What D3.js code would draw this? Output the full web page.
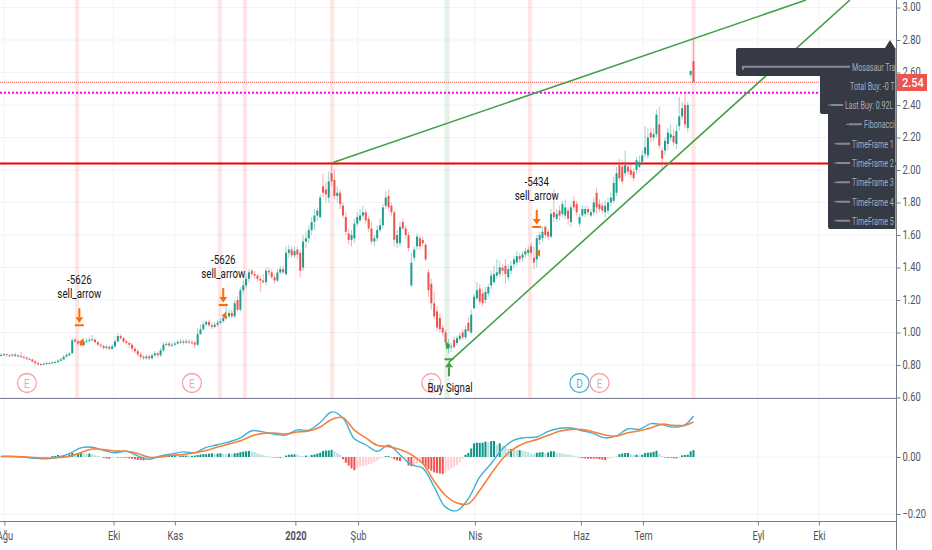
<!DOCTYPE html>
<html><head><meta charset="utf-8">
<script src="https://d3js.org/d3.v7.min.js"></script>
<style>html,body{margin:0;padding:0;background:#fff;overflow:hidden}svg{display:block;font-family:Roboto,sans-serif}</style>
</head><body><svg id="c" width="932" height="550"></svg>
<script>
const opens=[
.858,.862,.866,.860,.858,.864,.855,.856,.850,.846,
.838,.834,.822,.812,.806,.803,.807,.812,.811,.815,
.818,.826,.835,.852,.860,.872,.956,.945,.932,.922,
.945,.950,.955,.956,.940,.925,.918,.905,.912,.900,
.915,.945,.978,.965,.945,.935,.925,.900,.885,.865,
.850,.842,.852,.842,.860,.872,.860,.890,.925,.932,
.920,.925,.932,.942,.945,.938,.945,.940,.938,.925,
.99,1.02,1.05,1.065,1.045,1.035,1.048,1.06,1.07,1.09,
1.10,1.12,1.10,1.20,1.14,1.26,1.29,1.33,1.38,1.36,
1.35,1.33,1.32,1.31,1.38,1.37,1.34,1.32,1.37,1.39,
1.36,1.49,1.51,1.475,1.51,1.49,1.40,1.56,1.58,1.63,
1.68,1.72,1.71,1.90,1.88,1.83,1.98,1.94,1.84,1.86,
1.78,1.71,1.61,1.57,1.58,1.67,1.69,1.72,1.74,1.70,
1.64,1.56,1.58,1.63,1.66,1.78,1.84,1.78,1.74,1.55,
1.55,1.68,1.64,1.60,1.29,1.46,1.53,1.58,1.57,1.54,
1.37,1.30,1.18,1.13,1.09,1.03,1.00,.90,.91,.955,
.935,.96,1.00,.97,1.06,1.00,1.15,1.21,1.27,1.24,
1.20,1.24,1.29,1.31,1.35,1.36,1.40,1.41,1.34,1.38,
1.42,1.43,1.47,1.46,1.48,1.49,1.53,1.46,1.45,1.57,
1.58,1.65,1.62,1.59,1.74,1.70,1.75,1.73,1.72,1.75,
1.68,1.81,1.79,1.67,1.72,1.73,1.76,1.72,1.74,1.86,
1.79,1.78,1.74,1.75,1.80,1.81,1.86,2.03,2.02,1.98,
2.02,2.00,1.99,2.00,2.02,2.05,2.10,2.09,2.23,2.20,
2.22,2.28,2.12,2.12,2.16,2.20,2.21,2.16,2.27,2.33,
2.40,2.26,2.585,2.67];
const closes=[
.862,.866,.860,.858,.864,.855,.858,.850,.846,.838,
.834,.822,.812,.805,.802,.808,.812,.810,.815,.818,
.826,.835,.850,.862,.870,.952,.945,.932,.922,.945,
.950,.955,.958,.940,.925,.918,.905,.912,.900,.915,
.945,.978,.965,.945,.935,.925,.900,.885,.865,.850,
.842,.852,.840,.860,.872,.860,.890,.925,.930,.920,
.925,.932,.942,.945,.938,.945,.940,.938,.925,.990,
1.02,1.05,1.065,1.045,1.035,1.048,1.06,1.07,1.09,1.10,
1.12,1.10,1.18,1.14,1.26,1.29,1.33,1.37,1.36,1.35,
1.33,1.32,1.31,1.38,1.37,1.34,1.32,1.37,1.39,1.37,
1.49,1.51,1.475,1.50,1.48,1.38,1.56,1.58,1.63,1.68,
1.72,1.75,1.83,1.86,1.85,1.93,1.93,1.84,1.86,1.79,
1.72,1.62,1.57,1.60,1.67,1.71,1.72,1.74,1.69,1.64,
1.56,1.58,1.63,1.66,1.77,1.83,1.77,1.74,1.57,1.60,
1.65,1.64,1.60,1.52,1.43,1.51,1.59,1.53,1.55,1.45,
1.26,1.18,1.10,1.03,1.02,1.00,.94,.93,.915,.91,
.965,.98,.97,1.02,1.01,1.11,1.22,1.26,1.19,1.18,
1.25,1.28,1.35,1.36,1.37,1.40,1.38,1.36,1.39,1.41,
1.45,1.47,1.45,1.48,1.50,1.51,1.49,1.43,1.58,1.60,
1.62,1.60,1.59,1.73,1.71,1.73,1.72,1.79,1.77,1.70,
1.77,1.77,1.74,1.71,1.76,1.76,1.74,1.74,1.80,1.77,
1.76,1.75,1.78,1.80,1.83,1.92,1.98,1.95,1.93,2.03,
1.99,1.97,1.95,2.06,2.05,2.09,2.14,2.20,2.20,2.22,
2.34,2.15,2.07,2.18,2.23,2.22,2.17,2.24,2.33,2.38,
2.28,2.40,2.61,2.54];
const highs=[
.872,.874,.872,.868,.870,.876,.868,.880,.858,.852,
.846,.84,.83,.82,.812,.815,.82,.82,.824,.826,
.835,.845,.862,.875,.882,.965,.968,.955,.945,.965,
.965,.968,.985,.966,.95,.935,.925,.925,.922,.93,
.96,.995,.99,.975,.955,.945,.935,.915,.898,.88,
.862,.865,.864,.872,.885,.882,.905,.94,.945,.945,
.938,.945,.955,.96,.958,.96,.96,.955,.95,1.03,
1.05,1.07,1.08,1.08,1.06,1.065,1.075,1.085,1.105,1.18,
1.14,1.14,1.2,1.22,1.28,1.32,1.36,1.39,1.39,1.38,
1.36,1.35,1.36,1.40,1.40,1.39,1.36,1.39,1.41,1.41,
1.53,1.54,1.53,1.53,1.53,1.51,1.60,1.62,1.66,1.71,
1.76,1.77,1.85,1.98,1.93,1.99,2.04,2.0,1.90,1.88,
1.80,1.74,1.64,1.63,1.70,1.74,1.76,1.78,1.76,1.72,
1.68,1.60,1.66,1.70,1.79,1.87,1.88,1.80,1.75,1.63,
1.68,1.70,1.66,1.62,1.49,1.53,1.61,1.60,1.59,1.55,
1.39,1.33,1.25,1.16,1.12,1.05,1.02,.96,.94,.975,
.98,1.0,1.02,1.04,1.09,1.14,1.24,1.31,1.30,1.27,
1.28,1.30,1.38,1.41,1.45,1.44,1.42,1.45,1.42,1.44,
1.47,1.50,1.49,1.50,1.52,1.53,1.55,1.53,1.60,1.62,
1.65,1.66,1.64,1.76,1.88,1.76,1.78,1.81,1.82,1.77,
1.79,1.84,1.81,1.73,1.78,1.78,1.78,1.76,1.83,1.89,
1.82,1.80,1.81,1.83,1.86,1.96,2.02,2.07,2.06,2.12,
2.05,2.03,2.01,2.08,2.09,2.12,2.27,2.26,2.26,2.26,
2.37,2.39,2.14,2.20,2.26,2.28,2.25,2.28,2.45,2.42,
2.47,2.42,2.61,2.81];
const lows=[
.852,.856,.854,.85,.852,.848,.85,.844,.84,.83,
.828,.816,.795,.795,.794,.8,.804,.804,.808,.81,
.812,.82,.83,.845,.855,.868,.935,.92,.91,.915,
.935,.94,.945,.935,.915,.905,.895,.895,.89,.892,
.905,.94,.955,.935,.925,.905,.885,.87,.85,.835,
.83,.832,.828,.832,.85,.845,.85,.88,.915,.91,
.91,.915,.925,.93,.925,.93,.93,.925,.905,.915,
.985,1.01,1.04,1.035,1.02,1.025,1.035,1.05,1.06,1.08,
1.09,1.09,1.09,1.13,1.13,1.24,1.27,1.31,1.34,1.33,
1.31,1.25,1.30,1.29,1.35,1.33,1.30,1.31,1.36,1.36,
1.35,1.46,1.46,1.46,1.45,1.34,1.38,1.52,1.55,1.60,
1.63,1.69,1.70,1.83,1.80,1.80,1.90,1.82,1.80,1.76,
1.70,1.60,1.54,1.53,1.55,1.65,1.68,1.70,1.67,1.62,
1.54,1.53,1.56,1.62,1.64,1.76,1.75,1.72,1.53,1.52,
1.53,1.63,1.58,1.50,1.28,1.44,1.51,1.51,1.53,1.44,
1.22,1.14,1.08,1.01,1.00,.98,.92,.87,.88,.90,
.92,.945,.955,.96,1.00,.99,1.14,1.20,1.17,1.16,
1.18,1.22,1.27,1.30,1.33,1.34,1.35,1.30,1.32,1.36,
1.40,1.41,1.43,1.44,1.46,1.47,1.46,1.39,1.40,1.54,
1.56,1.58,1.57,1.58,1.68,1.68,1.69,1.71,1.70,1.66,
1.65,1.75,1.72,1.65,1.71,1.71,1.72,1.71,1.72,1.73,
1.74,1.73,1.71,1.73,1.78,1.80,1.84,1.93,1.91,1.96,
1.97,1.95,1.93,1.98,2.01,2.03,2.08,2.07,2.17,2.18,
2.20,2.13,2.00,2.09,2.12,2.18,2.15,2.13,2.24,2.31,
2.26,2.23,2.57,2.54];
const macdBars=[0,4,8,12,16,20,24,28,32,36,40,44,48,52,56,60,64,68,72,76,80,84,88,92,96,100,104,108,112,116,120,124,128,132,136,140,144,148,152,156,160,164,168,172,176,180,184,188,192,196,200,204,208,212,216,220,224,228,232,236,240,243];
const macdLine=[.002,.002,0,-.005,-.006,-.001,.012,.032,.034,.023,.015,.020,.004,-.008,.004,.011,.018,.015,.034,.043,.053,.067,.092,.088,.080,.077,.095,.094,.121,.158,.137,.064,.043,.020,.041,.008,-.027,-.039,-.105,-.176,-.188,-.146,-.070,-.023,.029,.059,.068,.070,.090,.101,.102,.092,.082,.067,.074,.099,.097,.117,.113,.105,.113,.144];
const signalLine=[.002,.002,.001,-.002,-.004,-.002,.002,.015,.028,.026,.021,.020,.012,-.001,0,.006,.009,.015,.023,.035,.046,.057,.074,.083,.084,.081,.088,.091,.105,.132,.138,.094,.067,.041,.036,.026,.008,-.023,-.085,-.135,-.161,-.164,-.117,-.059,-.006,.029,.050,.061,.076,.090,.097,.096,.088,.077,.073,.085,.092,.102,.115,.111,.111,.123];
const histogram=[
.001,.001,.001,.001,0,0,-.001,-.001,-.002,-.002,
-.002,-.003,-.003,-.003,-.002,-.002,-.002,-.001,.003,.004,
.007,.006,.007,.006,.009,.015,.012,.012,.014,.013,
.012,.012,.010,.006,.004,.001,-.003,-.005,-.006,-.003,
-.002,-.002,-.002,-.002,-.003,-.005,-.006,-.008,-.010,-.011,
-.012,-.007,-.004,-.001,-.001,.001,.002,.004,.005,.006,
.006,.006,.005,.005,.005,.005,.004,.004,.005,.007,
.009,.010,.010,.012,.013,.012,.012,.013,.011,.010,
.012,.011,.013,.014,.017,.019,.020,.021,.020,.017,
.012,.010,.006,.004,.002,-.001,-.002,-.002,-.003,-.002,
.005,.008,.009,.009,.008,.004,.003,.005,.003,.007,
.009,.012,.015,.021,.023,.023,.025,.020,.014,.008,
-.008,-.020,-.030,-.040,-.046,-.040,-.034,-.032,-.030,-.026,
-.024,-.018,-.012,-.006,-.002,.003,.003,-.002,-.008,-.012,
-.014,-.006,-.005,-.030,-.032,-.028,-.024,-.020,-.024,-.034,
-.042,-.048,-.054,-.056,-.058,-.060,-.056,-.046,-.040,-.034,
-.028,-.018,-.006,.008,.014,.030,.048,.050,.050,.050,
.054,.052,.056,.056,.044,.048,.040,.034,.028,.028,
.026,.024,.024,.022,.020,.018,.012,.010,.015,.016,
.017,.012,.016,.020,.020,.015,.014,.012,.010,.009,
.008,.005,.002,-.002,-.004,-.005,-.006,-.006,-.006,-.006,
-.008,-.009,-.011,-.006,-.005,-.002,.001,.010,.012,.014,
.014,.010,.008,.008,.006,.008,.014,.015,.016,.018,
.022,.010,.004,-.002,-.003,-.003,-.004,-.005,-.003,.006,
.007,.008,.020,.024];
const priceTicks=[3.0,2.8,2.6,2.4,2.2,2.0,1.8,1.6,1.4,1.2,1.0,0.8,0.6];
const macdTicks=[0,-0.2];
const timeTickBars=[1.2,39.5,61,103.3,125.3,166.3,203.5,225.3,265.6,287];
const timeTickLabels=["Ağu","Eki","Kas","2020","Şub","Nis","Haz","Tem","Eyl","Eki"];
const sellBands=[26.7,76.8,85.6,116.2,185.6,243];
const buyBands=[156.5];
const sellArrows=[{bar:27.5,price:1.045,top:"-5626",name:"sell_arrow"},{bar:78,price:1.17,top:"-5626",name:"sell_arrow"},{bar:188,price:1.65,top:"-5434",name:"sell_arrow"}];
const sellMarks=[{bar:28.5,price:.94},{bar:78.7,price:1.104},{bar:188.8,price:1.49}];
const levelRed=2.04, levelMagenta=2.475, lastPrice=2.54;
const trendA={bars:[116.5,282.5],prices:[2.046,3.046]};
const trendB={bars:[157.2,297.9],prices:[.818,3.046]};
const events=[{bar:9.1,t:"E",c:"#f7a3a6"},{bar:67,t:"E",c:"#f7a3a6"},{bar:151,t:"E",c:"#f7a3a6"},{bar:203,t:"D",c:"#4fb3d9"},{bar:210,t:"E",c:"#f7a3a6"}];
const legendRows=[
 {t:"Mosasaur Trad",tx:852,lx:743,ly:850,big:1},
 {t:"Total Buy: -0 T",tx:850},
 {t:"Last Buy: 0.92L",tx:845,lx:828,ly:843},
 {t:"Fibonacci",tx:864,lx:846,ly:862},
 {t:"TimeFrame 1",tx:852,lx:834,ly:850},
 {t:"TimeFrame 2",tx:852,lx:834,ly:850},
 {t:"TimeFrame 3",tx:852,lx:834,ly:850},
 {t:"TimeFrame 4",tx:852,lx:834,ly:850},
 {t:"TimeFrame 5",tx:852,lx:834,ly:850}];

const svg=d3.select("#c");
const W=896,PB=398,MB=521.5;
const x=d3.scaleLinear().domain([0,243]).range([1,693.5]);
const y=d3.scaleLinear().domain([0.8,3.0]).range([365,7.5]);
const ym=d3.scaleLinear().domain([-0.2,0]).range([514,457]);
const GREEN="#1e9e8f",RED="#ef5350";
const defs=svg.append("defs");
defs.append("clipPath").attr("id","pc").append("rect").attr("width",W).attr("height",PB);
defs.append("clipPath").attr("id","lc").append("rect").attr("width",W-0.5).attr("height",550);
const sx=.78;
function txt(g,xp,yp,s,o={}){
  return g.append("text").attr("transform",`translate(${xp},${yp}) scale(${o.sx||sx},1)`)
   .attr("text-anchor",o.a||"middle").attr("font-size",o.fs||12).attr("font-weight",o.w||400)
   .attr("fill",o.c||"#131722").text(s);
}
// grid
const grid=svg.append("g").attr("stroke","#f0f3fa");
grid.selectAll(".v").data(timeTickBars).join("line").attr("x1",d=>x(d)).attr("x2",d=>x(d)).attr("y1",0).attr("y2",MB);
grid.selectAll(".h").data(priceTicks).join("line").attr("x1",0).attr("x2",W).attr("y1",d=>y(d)).attr("y2",d=>y(d));
grid.selectAll(".m").data(macdTicks).join("line").attr("x1",0).attr("x2",W).attr("y1",d=>ym(d)).attr("y2",d=>ym(d));
// bands
const pane=svg.append("g").attr("clip-path","url(#pc)");
pane.selectAll(".sb").data(sellBands).join("rect").attr("x",d=>x(d)-2).attr("width",4).attr("y",0).attr("height",PB).attr("fill","rgba(255,82,82,.15)");
pane.selectAll(".bb").data(buyBands).join("rect").attr("x",d=>x(d)-2.5).attr("width",5).attr("y",0).attr("height",PB).attr("fill","rgba(76,175,80,.15)");
// level lines
pane.append("line").attr("x1",0).attr("x2",W).attr("y1",y(lastPrice)).attr("y2",y(lastPrice)).attr("stroke",RED).attr("stroke-dasharray","1 1");
pane.append("line").attr("x1",0).attr("x2",W).attr("y1",y(levelMagenta)).attr("y2",y(levelMagenta)).attr("stroke","#ff00ff").attr("stroke-width",2).attr("stroke-dasharray","2 2");
pane.append("line").attr("x1",0).attr("x2",W).attr("y1",y(levelRed)).attr("y2",y(levelRed)).attr("stroke","#f00000").attr("stroke-width",2);
// candles
const bars=d3.range(closes.length);
const col=i=>closes[i]>=opens[i]?GREEN:RED;
pane.selectAll(".w").data(bars).join("line").attr("x1",i=>x(i)).attr("x2",i=>x(i)).attr("y1",i=>y(highs[i])).attr("y2",i=>y(lows[i])).attr("stroke",col).attr("stroke-opacity",.45);
pane.selectAll(".b").data(bars).join("rect").attr("x",i=>x(i)-1).attr("width",2).attr("y",i=>y(Math.max(opens[i],closes[i]))).attr("height",i=>Math.max(1,Math.abs(y(opens[i])-y(closes[i])))).attr("fill",col);
// trend lines
for(const t of [trendA,trendB]){
  pane.append("line").attr("x1",x(t.bars[0])).attr("y1",y(t.prices[0])).attr("x2",x(t.bars[1])).attr("y2",y(t.prices[1])).attr("stroke","#43a047").attr("stroke-width",1.6);
}
// events
const ev=svg.append("g");
events.forEach(e=>{
  ev.append("circle").attr("cx",x(e.bar)).attr("cy",383).attr("r",9.5).attr("fill","#fff").attr("stroke",e.c).attr("stroke-width",1.3);
  txt(ev,x(e.bar),387.5,e.t,{c:e.c,fs:12.5,sx:.8});
});
// arrows
const ORANGE="#ff6d00",BUY="#43a047";
sellArrows.forEach(a=>{
  const X=x(a.bar),Y=y(a.price);
  pane.append("path").attr("d",`M${X-4.5},${Y}H${X+4.5}M${X},${Y-8}V${Y-17}`).attr("stroke",ORANGE).attr("stroke-width",2).attr("fill","none");
  pane.append("path").attr("d",`M${X-4},${Y-8}H${X+4}L${X},${Y-2.5}Z`).attr("fill",ORANGE);
  txt(svg,X,Y-27,a.name,{fs:13,sx:.75});
  txt(svg,X,Y-41,a.top,{fs:13,sx:.75});
});
pane.selectAll(".sm").data(sellMarks).join("path").attr("d",d=>{const X=x(d.bar),Y=y(d.price);return `M${X-3.5},${Y}L${X+1},${Y-4}V${Y+4}Z`;}).attr("fill",ORANGE);
{const X=x(156.5),Y=y(.92);pane.append("path").attr("d",`M${X+3.5},${Y}L${X-1},${Y-4}V${Y+4}Z`).attr("fill",BUY);}
{const X=x(157.2),Y=y(.835);
 pane.append("path").attr("d",`M${X-4.5},${Y}H${X+4.5}M${X},${Y+8}V${Y+17}`).attr("stroke",BUY).attr("stroke-width",2).attr("fill","none");
 pane.append("path").attr("d",`M${X-4},${Y+8}H${X+4}L${X},${Y+2.5}Z`).attr("fill",BUY);
 const g=svg.append("g").attr("clip-path","url(#pc)");
 txt(g,X+1,392,"Buy Signal",{fs:13,sx:.75});
 txt(g,X+1,407,"Buy",{fs:13,sx:.75});
}
// MACD pane
const hc=(d,i)=>{const p=i?histogram[i-1]:0;return d>=0?(d>=p?"#0d9484":"#b2dfdb"):(d<=p?"#ef5350":"#ffcdd2");};
svg.selectAll(".h").data(histogram).join("rect").attr("x",(d,i)=>x(i)-1).attr("width",2).attr("y",d=>Math.min(ym(d),ym(0))).attr("height",d=>Math.abs(ym(d)-ym(0))).attr("fill",hc);
const ln=a=>d3.line().x((d,i)=>x(macdBars[i])).y(d=>ym(d)).curve(d3.curveCatmullRom)(a);
svg.append("path").attr("d",ln(macdLine)).attr("fill","none").attr("stroke","#3fb1d6").attr("stroke-width",1.4);
svg.append("path").attr("d",ln(signalLine)).attr("fill","none").attr("stroke","#f5813f").attr("stroke-width",1.6);
// pane separators
svg.append("line").attr("x1",0).attr("x2",W).attr("y1",PB+.5).attr("y2",PB+.5).attr("stroke","#7d7f92").attr("stroke-width",1);
// legend box
const box=svg.append("g").attr("clip-path","url(#lc)");
box.append("path").attr("d","M738,48H885L890,40L895,48H900V229H830Q828,229 828,227V114H822Q820,114 820,112V76H738Q736,76 736,74V50Q736,48 738,48Z").attr("fill","#363a45");
legendRows.forEach((r,i)=>{
  const Y=[66.7,85.7,105,124.3,143.7,163,182.3,201.7,220.7][i];
  if(r.lx){
    if(r.big){box.append("path").attr("d",`M${r.lx},${Y+3}V${Y}H${r.ly}`).attr("fill","none").attr("stroke","#878a96").attr("stroke-width",2);}
    else{box.append("line").attr("x1",r.lx+3).attr("x2",r.ly).attr("y1",Y).attr("y2",Y).attr("stroke","#878a96").attr("stroke-width",2);
         box.append("line").attr("x1",r.lx).attr("x2",r.lx+3).attr("y1",Y).attr("y2",Y).attr("stroke","#878a96");}
  }
  txt(box,r.tx,Y+4,r.t,{a:"start",fs:11.5,sx:.62,c:"#a9acb7"});
});
// right axis
const axisG=svg.append("g").attr("transform",`translate(${W+.5},0)`);
function styleAxis(g){
  g.select(".domain").remove();
  g.selectAll("line").attr("stroke","#787b86");
  g.selectAll("text").attr("x",0).attr("dy",null).attr("fill","#50535e").attr("font-size",12).attr("font-family","Roboto,sans-serif")
    .attr("text-anchor","start").attr("dominant-baseline","middle");
  g.selectAll(".tick text").attr("transform",`translate(6,0) scale(${sx},1)`);
}
axisG.call(d3.axisRight(y).tickValues(priceTicks).tickSize(4).tickFormat(d3.format(".2f"))).call(styleAxis);
axisG.append("g").call(d3.axisRight(ym).tickValues(macdTicks).tickSize(4).tickFormat(d3.format(".2f"))).call(styleAxis);
svg.append("line").attr("x1",W+.5).attr("x2",W+.5).attr("y1",0).attr("y2",550).attr("stroke","#787b86");
// last price label
svg.append("rect").attr("x",W+1).attr("y",74).attr("width",30).attr("height",17).attr("fill","#ef5350");
txt(svg,W+6,y(lastPrice)+4.5,lastPrice.toFixed(2),{a:"start",c:"#fff",fs:13,w:500,sx:.85});
// bottom axis
const bg=svg.append("g").attr("transform",`translate(0,${MB})`);
bg.call(d3.axisBottom(x).tickValues(timeTickBars).tickSize(4).tickFormat((d,i)=>timeTickLabels[i]));
bg.select(".domain").remove();
bg.selectAll("line").attr("stroke","#787b86");
bg.selectAll("text").attr("y",0).attr("dy",null).attr("fill","#50535e").attr("font-size",12).attr("font-family","Roboto,sans-serif")
  .attr("font-weight",(d,i)=>timeTickLabels[i]==="2020"?700:400)
  .attr("transform",`translate(0,18.5) scale(${sx},1)`);
svg.append("line").attr("x1",0).attr("x2",W).attr("y1",MB).attr("y2",MB).attr("stroke","#787b86");
</script></body></html>
